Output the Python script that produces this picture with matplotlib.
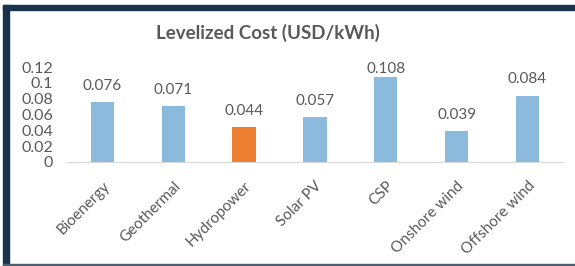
import matplotlib.pyplot as plt
from matplotlib.patches import Rectangle

# Data
categories = ['Bioenergy', 'Geothermal', 'Hydropower', 'Solar PV', 'CSP',
              'Onshore wind', 'Offshore wind']
costs = [0.076, 0.071, 0.044, 0.057, 0.108, 0.039, 0.084]
bar_colors = ['#8bbadc', '#8bbadc', '#ed7d31', '#8bbadc', '#8bbadc', '#8bbadc', '#8bbadc']
yticks = [0, 0.02, 0.04, 0.06, 0.08, 0.1, 0.12]
ytick_labels = ['0', '0.02', '0.04', '0.06', '0.08', '0.1', '0.12']

plt.rcParams['font.family'] = ['Lato', 'DejaVu Sans']
txt = '#595959'

fig = plt.figure(figsize=(5.75, 2.66), dpi=100)
ax = fig.add_axes([0.1165, 0.391, 0.8625, 0.357])

x = range(len(categories))
ax.bar(x, costs, width=0.33, color=bar_colors)
for xi, v in zip(x, costs):
    # labels sit above bars but stay inside the plot area
    ax.text(xi, min(v + 0.0205, 0.1175), f'{v:.3f}', ha='center', va='center',
            fontsize=11, color=txt, clip_on=False)

ax.set_xlim(-0.5, len(categories) - 0.5)
ax.set_ylim(0, 0.12)
ax.set_yticks(yticks)
ax.set_yticklabels(ytick_labels, fontsize=11.5, color=txt)
ax.set_xticks(list(x))
ax.set_xticklabels(categories, rotation=45, ha='right', rotation_mode='anchor',
                   fontsize=11, color=txt)
ax.tick_params(axis='y', length=0, pad=10)
ax.tick_params(axis='x', length=0, pad=12)
for s in ['top', 'right', 'left']:
    ax.spines[s].set_visible(False)
ax.spines['bottom'].set_color('#d9d9d9')

fig.text(0.466, 0.876, 'Levelized Cost (USD/kWh)', ha='center', va='center',
         fontsize=13.5, fontweight='bold', color=txt)

# Dark frame on top and left, thin line at bottom
navy = '#17344c'
fig.patches.append(Rectangle((3 / 575, 1 - 10 / 266), 1, 5 / 266, transform=fig.transFigure,
                             color=navy, zorder=0))
fig.patches.append(Rectangle((3 / 575, 0), 6 / 575, 1 - 5 / 266, transform=fig.transFigure,
                             color=navy, zorder=0))
fig.patches.append(Rectangle((3 / 575, 1 / 266), 1, 1.5 / 266, transform=fig.transFigure,
                             color='#4a5f70', zorder=0))

fig.savefig('out.png', dpi=100)
